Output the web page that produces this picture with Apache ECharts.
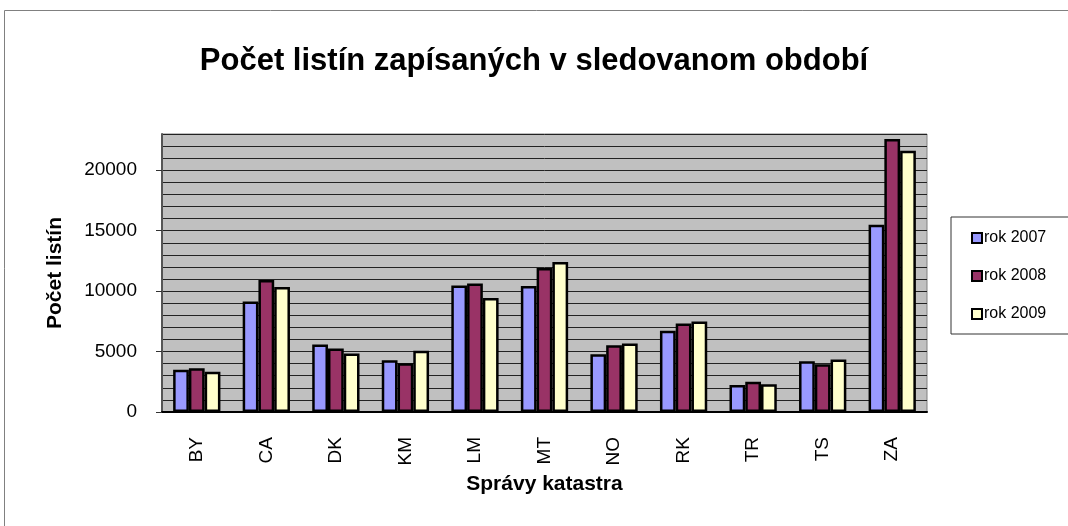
<!DOCTYPE html>
<html>
<head>
<meta charset="utf-8">
<script src="https://cdn.jsdelivr.net/npm/echarts@6/dist/echarts.min.js"></script>
<style>
  html, body { margin: 0; padding: 0; background: #fff; }
  #chart { width: 1068px; height: 526px; }
</style>
</head>
<body>
<div id="chart"></div>
<script>
// Správy katastra (kategórie)
const categories = ['BY', 'CA', 'DK', 'KM', 'LM', 'MT', 'NO', 'RK', 'TR', 'TS', 'ZA'];
const seriesNames = ['rok 2007', 'rok 2008', 'rok 2009'];
// počty listín odčítané z grafu
const rok2007 = [3500, 9150, 5580, 4290, 10470, 10420, 4780, 6720, 2240, 4200, 15500];
const rok2008 = [3620, 10920, 5250, 4040, 10640, 11920, 5530, 7320, 2510, 3950, 22580];
const rok2009 = [3320, 10340, 4840, 5060, 9430, 12410, 5660, 7490, 2300, 4340, 21620];
const colors = ['#9999FF', '#993366', '#FFFFCC'];

const FONT = '"Liberation Sans", Arial, sans-serif';

const chart = echarts.init(document.getElementById('chart'), null, { renderer: 'canvas' });

function barSeries(name, data, color) {
  return {
    name: name,
    type: 'bar',
    yAxisIndex: 0,
    data: data,
    barGap: '0%',
    barCategoryGap: '32%',
    itemStyle: { color: color, borderColor: '#000', borderWidth: 2.5 },
    emphasis: { disabled: true }
  };
}

const option = {
  animation: false,
  backgroundColor: '#fff',
  title: {
    text: 'Počet listín zapísaných v sledovanom období',
    left: 'center',
    top: 41,
    textStyle: { fontFamily: FONT, fontSize: 31, fontWeight: 'bold', color: '#000' }
  },
  graphic: [{
    type: 'rect',
    shape: { x: 4.5, y: 10.5, width: 1100, height: 600 },
    style: { fill: 'none', stroke: '#808080', lineWidth: 1 },
    silent: true
  }],
  legend: {
    orient: 'vertical',
    left: 951,
    top: 217,
    width: 116,
    padding: [13, 30, 12, 20],
    itemGap: 22,
    itemWidth: 10,
    itemHeight: 10,
    icon: 'rect',
    borderColor: '#333',
    borderWidth: 1,
    backgroundColor: '#fff',
    itemStyle: { borderColor: '#000', borderWidth: 2 },
    textStyle: { fontFamily: FONT, fontSize: 16, color: '#000', padding: [0, 0, 0, -3] },
    data: seriesNames
  },
  grid: {
    left: 162,
    right: 141,
    top: 134,
    bottom: 114,
    show: true,
    backgroundColor: '#C0C0C0',
    borderColor: '#808080',
    borderWidth: 1
  },
  xAxis: {
    type: 'category',
    data: categories,
    name: 'Správy katastra',
    nameLocation: 'middle',
    nameGap: 56,
    nameTextStyle: { fontFamily: FONT, fontSize: 21, fontWeight: 'bold', color: '#000' },
    axisLine: { lineStyle: { color: '#000', width: 2 } },
    axisTick: { length: 6, lineStyle: { color: '#808080', width: 1 } },
    axisLabel: { rotate: 90, margin: 25, fontFamily: FONT, fontSize: 19, color: '#000' },
    splitLine: { show: false }
  },
  yAxis: [{
    type: 'value',
    min: 0,
    max: 23000,
    interval: 5000,
    name: 'Počet listín',
    nameLocation: 'middle',
    nameRotate: 90,
    nameGap: 96,
    nameTextStyle: { fontFamily: FONT, fontSize: 21, fontWeight: 'bold', color: '#000' },
    axisLine: { show: true, lineStyle: { color: '#555', width: 2 } },
    axisTick: { show: true, length: 6, lineStyle: { color: '#333' } },
    axisLabel: {
      margin: 25, showMaxLabel: false, fontFamily: FONT, fontSize: 19, color: '#000',
      formatter: function (v) { return String(v); }
    },
    splitLine: { show: false }
  }, {
    type: 'value',
    min: 0,
    max: 23000,
    interval: 1000,
    position: 'left',
    axisLine: { show: false },
    axisTick: { show: false },
    axisLabel: { show: false },
    splitLine: { show: true, lineStyle: { color: '#222', width: 1 } }
  }],
  series: [
    barSeries(seriesNames[0], rok2007, colors[0]),
    barSeries(seriesNames[1], rok2008, colors[1]),
    barSeries(seriesNames[2], rok2009, colors[2])
  ]
};

chart.setOption(option);
</script>
</body>
</html>
